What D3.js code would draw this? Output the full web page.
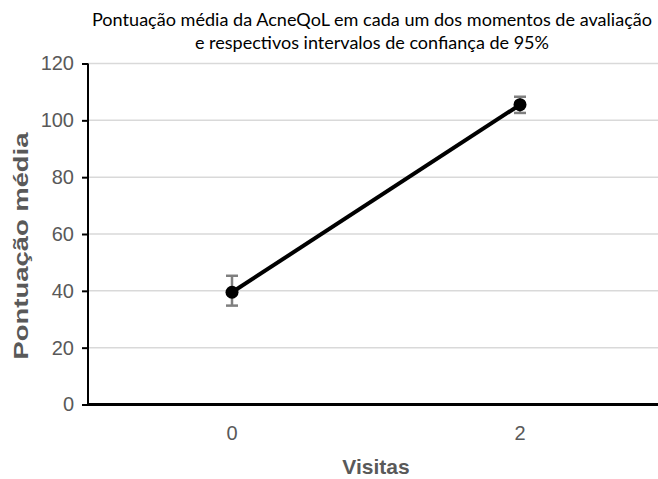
<!DOCTYPE html>
<html>
<head>
<meta charset="utf-8">
<script src="https://cdn.jsdelivr.net/npm/d3@7"></script>
<style>
  body { margin: 0; background: #fff; }
  svg { display: block; }
</style>
</head>
<body>
<div id="chart"></div>
<script>
// data
const visitas = ["0", "2"];
const media = [39.5, 105.5];
const ciLow = [34.8, 102.6];
const ciHigh = [45.3, 108.3];
const yTicks = [0, 20, 40, 60, 80, 100, 120];
const titleLines = [
    "Pontuação média da AcneQoL em cada um dos momentos de avaliação",
    "e respectivos intervalos de confiança de 95%"
];

const width = 658;
const height = 479;
const margin = {top: 64, right: -6, bottom: 74, left: 88};

const svg = d3.select("#chart").append("svg")
    .attr("width", width)
    .attr("height", height);

const x = d3.scaleBand()
    .domain(visitas)
    .range([margin.left, width - margin.right]);

const y = d3.scaleLinear()
    .domain([0, 120])
    .range([height - margin.bottom - 0.5, margin.top - 0.5]);

const tickFont = "'Liberation Sans', Arial, sans-serif";

// gridlines
svg.append("g")
    .selectAll("line")
    .data(yTicks.filter(d => d > 0))
    .enter()
    .append("line")
    .attr("x1", margin.left)
    .attr("x2", width)
    .attr("y1", d => y(d))
    .attr("y2", d => y(d))
    .attr("stroke", "#d9d9d9")
    .attr("stroke-width", 1.5);

// y axis
const yAxis = svg.append("g")
    .attr("transform", "translate(" + margin.left + ",0)")
    .call(d3.axisLeft(y).tickValues(yTicks).tickSize(6).tickPadding(8));
yAxis.select(".domain").attr("stroke", "#000").attr("stroke-width", 2)
    .attr("d", "M0," + y(120) + "V" + y(0));
yAxis.selectAll(".tick line").attr("stroke", "#000").attr("stroke-width", 2);
yAxis.selectAll(".tick text")
    .attr("fill", "#595959")
    .style("font-family", tickFont)
    .style("font-size", "20px");

// x axis
const xAxis = svg.append("g")
    .attr("transform", "translate(0," + y(0) + ")")
    .call(d3.axisBottom(x).tickSize(0).tickPadding(21));
xAxis.select(".domain").attr("stroke", "#000").attr("stroke-width", 3)
    .attr("d", "M" + margin.left + ",0H" + width);
xAxis.selectAll(".tick text")
    .attr("fill", "#595959")
    .style("font-family", tickFont)
    .style("font-size", "20px");

const cx = d => x(d) + x.bandwidth() / 2;

// line
const pts = visitas.map((v, i) => ({v: v, m: media[i], lo: ciLow[i], hi: ciHigh[i]}));
svg.append("path")
    .datum(pts)
    .attr("fill", "none")
    .attr("stroke", "#000")
    .attr("stroke-width", 4)
    .attr("d", d3.line().x(d => cx(d.v)).y(d => y(d.m)));

// error bars
const eb = svg.append("g").attr("stroke", "#7f7f7f").attr("stroke-width", 2.5);
pts.forEach(d => {
    eb.append("line")
        .attr("x1", cx(d.v)).attr("x2", cx(d.v))
        .attr("y1", y(d.lo)).attr("y2", y(d.hi));
    [d.lo, d.hi].forEach(val => {
        eb.append("line")
            .attr("x1", cx(d.v) - 6).attr("x2", cx(d.v) + 6)
            .attr("y1", y(val)).attr("y2", y(val));
    });
});

// markers
svg.append("g")
    .selectAll("circle")
    .data(pts)
    .enter()
    .append("circle")
    .attr("cx", d => cx(d.v))
    .attr("cy", d => y(d.m))
    .attr("r", 6.5)
    .attr("fill", "#000");

// title
const titleWidths = [560, 354];
svg.append("g")
    .selectAll("text")
    .data(titleLines)
    .enter()
    .append("text")
    .attr("x", 372)
    .attr("y", (d, i) => 26 + i * 23)
    .attr("text-anchor", "middle")
    .attr("textLength", (d, i) => titleWidths[i])
    .attr("lengthAdjust", "spacingAndGlyphs")
    .style("font-family", "Lato, 'Open Sans', sans-serif")
    .style("font-size", "17px")
    .attr("fill", "#000")
    .text(d => d);

// axis titles
svg.append("text")
    .attr("x", 376)
    .attr("y", 474)
    .attr("text-anchor", "middle")
    .attr("fill", "#595959")
    .style("font-family", tickFont)
    .style("font-size", "21px")
    .style("font-weight", "bold")
    .text("Visitas");

svg.append("text")
    .attr("transform", "translate(28,246) rotate(-90)")
    .attr("text-anchor", "middle")
    .attr("textLength", 227)
    .attr("lengthAdjust", "spacingAndGlyphs")
    .attr("fill", "#595959")
    .style("font-family", tickFont)
    .style("font-size", "21px")
    .style("font-weight", "bold")
    .text("Pontuação média");
</script>
</body>
</html>
